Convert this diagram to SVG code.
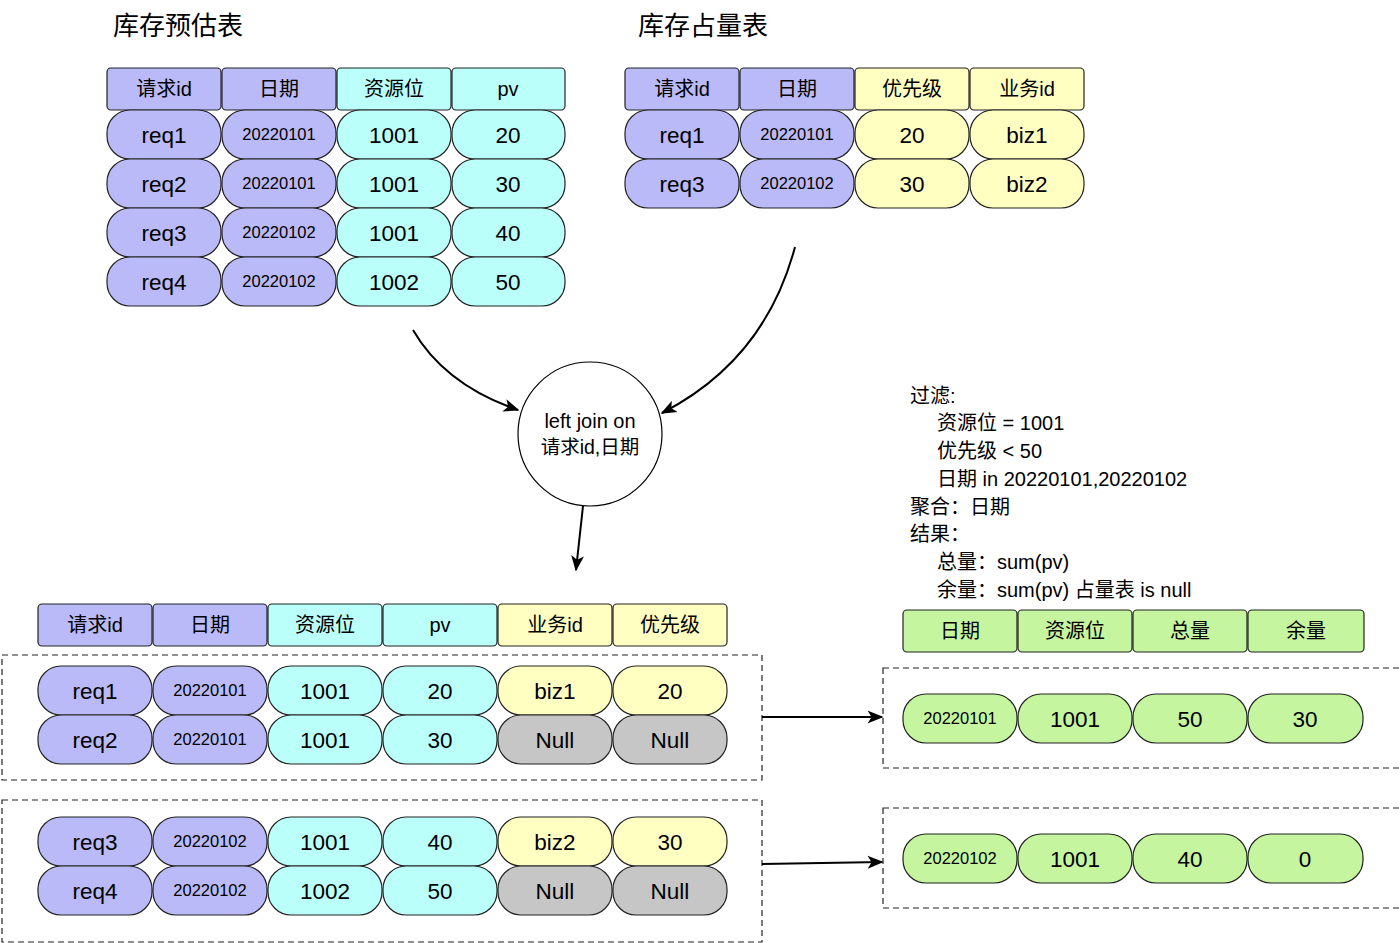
<svg xmlns="http://www.w3.org/2000/svg" width="1400" height="943" viewBox="0 0 1400 943">
<defs>
<style>
text{font-family:"Liberation Sans","Noto Sans CJK SC",sans-serif;fill:#000;}
.t{text-anchor:middle;dominant-baseline:central;}
.h{font-size:20px;}
.v{font-size:22.5px;}
.d{font-size:16.5px;}
.ttl{font-size:26px;}
.note{font-size:20px;}
.hd{stroke:#222;stroke-width:1.2;}
.pl{stroke:#222;stroke-width:1.2;}
.p{fill:#BABAF8;}
.c{fill:#BBFFFA;}
.y{fill:#FFFFC2;}
.g{fill:#C6F5A0;}
.n{fill:#C6C6C6;}
.dash{fill:none;stroke:#222;stroke-width:1.2;stroke-dasharray:6 4;}
.ln{fill:none;stroke:#000;stroke-width:2;}
</style>
<marker id="ahb" viewBox="0 0 10 10" refX="9" refY="5" markerWidth="16" markerHeight="16" markerUnits="userSpaceOnUse" orient="auto"><path d="M0,1 L10,5 L0,9 L2.5,5 Z" fill="#000"/></marker>
</defs>
<rect width="1400" height="943" fill="#fff"/>

<g id="title-left"><text x="113" y="35" class="ttl">库存预估表</text></g>
<g id="title-right"><text x="638" y="35" class="ttl">库存占量表</text></g>

<!-- Top-left table -->
<g id="table-estimate">
<rect x="107" y="68" width="114" height="42" rx="4" class="hd p"/><text x="164" y="89" class="t h">请求id</text>
<rect x="222" y="68" width="114" height="42" rx="4" class="hd p"/><text x="279" y="89" class="t h">日期</text>
<rect x="337" y="68" width="114" height="42" rx="4" class="hd c"/><text x="394" y="89" class="t h">资源位</text>
<rect x="452" y="68" width="113" height="42" rx="4" class="hd c"/><text x="508" y="89" class="t h">pv</text>

<rect x="107" y="110" width="114" height="49" rx="23" class="pl p"/><text x="164" y="135" class="t v">req1</text>
<rect x="222" y="110" width="114" height="49" rx="23" class="pl p"/><text x="279" y="134" class="t d">20220101</text>
<rect x="337" y="110" width="114" height="49" rx="23" class="pl c"/><text x="394" y="135" class="t v">1001</text>
<rect x="452" y="110" width="113" height="49" rx="23" class="pl c"/><text x="508" y="135" class="t v">20</text>

<rect x="107" y="159" width="114" height="49" rx="23" class="pl p"/><text x="164" y="184" class="t v">req2</text>
<rect x="222" y="159" width="114" height="49" rx="23" class="pl p"/><text x="279" y="183" class="t d">20220101</text>
<rect x="337" y="159" width="114" height="49" rx="23" class="pl c"/><text x="394" y="184" class="t v">1001</text>
<rect x="452" y="159" width="113" height="49" rx="23" class="pl c"/><text x="508" y="184" class="t v">30</text>

<rect x="107" y="208" width="114" height="49" rx="23" class="pl p"/><text x="164" y="233" class="t v">req3</text>
<rect x="222" y="208" width="114" height="49" rx="23" class="pl p"/><text x="279" y="232" class="t d">20220102</text>
<rect x="337" y="208" width="114" height="49" rx="23" class="pl c"/><text x="394" y="233" class="t v">1001</text>
<rect x="452" y="208" width="113" height="49" rx="23" class="pl c"/><text x="508" y="233" class="t v">40</text>

<rect x="107" y="257" width="114" height="49" rx="23" class="pl p"/><text x="164" y="282" class="t v">req4</text>
<rect x="222" y="257" width="114" height="49" rx="23" class="pl p"/><text x="279" y="281" class="t d">20220102</text>
<rect x="337" y="257" width="114" height="49" rx="23" class="pl c"/><text x="394" y="282" class="t v">1002</text>
<rect x="452" y="257" width="113" height="49" rx="23" class="pl c"/><text x="508" y="282" class="t v">50</text>
</g>

<!-- Top-right table -->
<g id="table-occupy">
<rect x="625" y="68" width="114" height="42" rx="4" class="hd p"/><text x="682" y="89" class="t h">请求id</text>
<rect x="740" y="68" width="114" height="42" rx="4" class="hd p"/><text x="797" y="89" class="t h">日期</text>
<rect x="855" y="68" width="114" height="42" rx="4" class="hd y"/><text x="912" y="89" class="t h">优先级</text>
<rect x="970" y="68" width="114" height="42" rx="4" class="hd y"/><text x="1027" y="89" class="t h">业务id</text>

<rect x="625" y="110" width="114" height="49" rx="23" class="pl p"/><text x="682" y="135" class="t v">req1</text>
<rect x="740" y="110" width="114" height="49" rx="23" class="pl p"/><text x="797" y="134" class="t d">20220101</text>
<rect x="855" y="110" width="114" height="49" rx="23" class="pl y"/><text x="912" y="135" class="t v">20</text>
<rect x="970" y="110" width="114" height="49" rx="23" class="pl y"/><text x="1027" y="135" class="t v">biz1</text>

<rect x="625" y="159" width="114" height="49" rx="23" class="pl p"/><text x="682" y="184" class="t v">req3</text>
<rect x="740" y="159" width="114" height="49" rx="23" class="pl p"/><text x="797" y="183" class="t d">20220102</text>
<rect x="855" y="159" width="114" height="49" rx="23" class="pl y"/><text x="912" y="184" class="t v">30</text>
<rect x="970" y="159" width="114" height="49" rx="23" class="pl y"/><text x="1027" y="184" class="t v">biz2</text>
</g>

<!-- Join node -->
<g id="join">
<circle cx="590" cy="434" r="72" fill="#fff" stroke="#000" stroke-width="1.2"/>
<text x="590" y="421" class="t" style="font-size:20px">left join on</text>
<text x="590" y="447" class="t" style="font-size:19.5px">请求id,日期</text>
</g>

<!-- Filter note -->
<g id="note">
<text x="910" y="403" class="note">过滤:</text>
<text x="937" y="430" class="note">资源位 = 1001</text>
<text x="937" y="458" class="note">优先级 &lt; 50</text>
<text x="937" y="486" class="note">日期 in 20220101,20220102</text>
<text x="910" y="514" class="note">聚合：日期</text>
<text x="910" y="541" class="note">结果：</text>
<text x="937" y="569" class="note">总量：sum(pv)</text>
<text x="937" y="597" class="note">余量：sum(pv) 占量表 is null</text>
</g>

<!-- Joined table -->
<g id="table-joined">
<rect x="38" y="604" width="114" height="42" rx="4" class="hd p"/><text x="95" y="625" class="t h">请求id</text>
<rect x="153" y="604" width="114" height="42" rx="4" class="hd p"/><text x="210" y="625" class="t h">日期</text>
<rect x="268" y="604" width="114" height="42" rx="4" class="hd c"/><text x="325" y="625" class="t h">资源位</text>
<rect x="383" y="604" width="114" height="42" rx="4" class="hd c"/><text x="440" y="625" class="t h">pv</text>
<rect x="498" y="604" width="114" height="42" rx="4" class="hd y"/><text x="555" y="625" class="t h">业务id</text>
<rect x="613" y="604" width="114" height="42" rx="4" class="hd y"/><text x="670" y="625" class="t h">优先级</text>
</g>

<g id="group-0101">
<rect x="2" y="655" width="760" height="125" class="dash"/>
<rect x="38" y="666" width="114" height="49" rx="23" class="pl p"/><text x="95" y="691" class="t v">req1</text>
<rect x="153" y="666" width="114" height="49" rx="23" class="pl p"/><text x="210" y="690" class="t d">20220101</text>
<rect x="268" y="666" width="114" height="49" rx="23" class="pl c"/><text x="325" y="691" class="t v">1001</text>
<rect x="383" y="666" width="114" height="49" rx="23" class="pl c"/><text x="440" y="691" class="t v">20</text>
<rect x="498" y="666" width="114" height="49" rx="23" class="pl y"/><text x="555" y="691" class="t v">biz1</text>
<rect x="613" y="666" width="114" height="49" rx="23" class="pl y"/><text x="670" y="691" class="t v">20</text>

<rect x="38" y="715" width="114" height="49" rx="23" class="pl p"/><text x="95" y="740" class="t v">req2</text>
<rect x="153" y="715" width="114" height="49" rx="23" class="pl p"/><text x="210" y="739" class="t d">20220101</text>
<rect x="268" y="715" width="114" height="49" rx="23" class="pl c"/><text x="325" y="740" class="t v">1001</text>
<rect x="383" y="715" width="114" height="49" rx="23" class="pl c"/><text x="440" y="740" class="t v">30</text>
<rect x="498" y="715" width="114" height="49" rx="23" class="pl n"/><text x="555" y="740" class="t v">Null</text>
<rect x="613" y="715" width="114" height="49" rx="23" class="pl n"/><text x="670" y="740" class="t v">Null</text>
</g>

<g id="group-0102">
<rect x="2" y="800" width="760" height="142" class="dash"/>
<rect x="38" y="817" width="114" height="49" rx="23" class="pl p"/><text x="95" y="842" class="t v">req3</text>
<rect x="153" y="817" width="114" height="49" rx="23" class="pl p"/><text x="210" y="841" class="t d">20220102</text>
<rect x="268" y="817" width="114" height="49" rx="23" class="pl c"/><text x="325" y="842" class="t v">1001</text>
<rect x="383" y="817" width="114" height="49" rx="23" class="pl c"/><text x="440" y="842" class="t v">40</text>
<rect x="498" y="817" width="114" height="49" rx="23" class="pl y"/><text x="555" y="842" class="t v">biz2</text>
<rect x="613" y="817" width="114" height="49" rx="23" class="pl y"/><text x="670" y="842" class="t v">30</text>

<rect x="38" y="866" width="114" height="49" rx="23" class="pl p"/><text x="95" y="891" class="t v">req4</text>
<rect x="153" y="866" width="114" height="49" rx="23" class="pl p"/><text x="210" y="890" class="t d">20220102</text>
<rect x="268" y="866" width="114" height="49" rx="23" class="pl c"/><text x="325" y="891" class="t v">1002</text>
<rect x="383" y="866" width="114" height="49" rx="23" class="pl c"/><text x="440" y="891" class="t v">50</text>
<rect x="498" y="866" width="114" height="49" rx="23" class="pl n"/><text x="555" y="891" class="t v">Null</text>
<rect x="613" y="866" width="114" height="49" rx="23" class="pl n"/><text x="670" y="891" class="t v">Null</text>
</g>

<!-- Result table -->
<g id="table-result">
<rect x="903" y="610" width="114" height="42" rx="4" class="hd g"/><text x="960" y="631" class="t h">日期</text>
<rect x="1018" y="610" width="114" height="42" rx="4" class="hd g"/><text x="1075" y="631" class="t h">资源位</text>
<rect x="1133" y="610" width="114" height="42" rx="4" class="hd g"/><text x="1190" y="631" class="t h">总量</text>
<rect x="1248" y="610" width="116" height="42" rx="4" class="hd g"/><text x="1306" y="631" class="t h">余量</text>
</g>

<g id="result-0101">
<rect x="883" y="668" width="518" height="100" class="dash"/>
<rect x="903" y="694" width="114" height="49" rx="23" class="pl g"/><text x="960" y="718" class="t d">20220101</text>
<rect x="1018" y="694" width="114" height="49" rx="23" class="pl g"/><text x="1075" y="719" class="t v">1001</text>
<rect x="1133" y="694" width="114" height="49" rx="23" class="pl g"/><text x="1190" y="719" class="t v">50</text>
<rect x="1248" y="694" width="115" height="49" rx="23" class="pl g"/><text x="1305" y="719" class="t v">30</text>
</g>

<g id="result-0102">
<rect x="883" y="808" width="518" height="100" class="dash"/>
<rect x="903" y="834" width="114" height="49" rx="23" class="pl g"/><text x="960" y="858" class="t d">20220102</text>
<rect x="1018" y="834" width="114" height="49" rx="23" class="pl g"/><text x="1075" y="859" class="t v">1001</text>
<rect x="1133" y="834" width="114" height="49" rx="23" class="pl g"/><text x="1190" y="859" class="t v">40</text>
<rect x="1248" y="834" width="115" height="49" rx="23" class="pl g"/><text x="1305" y="859" class="t v">0</text>
</g>

<!-- Connectors -->
<g id="connectors">
<path d="M413,330 Q445,385 518,410" class="ln" marker-end="url(#ahb)"/>
<path d="M795,247 Q765,360 662,413" class="ln" marker-end="url(#ahb)"/>
<path d="M583,506 L576,570" class="ln" marker-end="url(#ahb)"/>
<path d="M762,717 L882,717" class="ln" marker-end="url(#ahb)"/>
<path d="M762,864 L882,862" class="ln" marker-end="url(#ahb)"/>
</g>
</svg>
